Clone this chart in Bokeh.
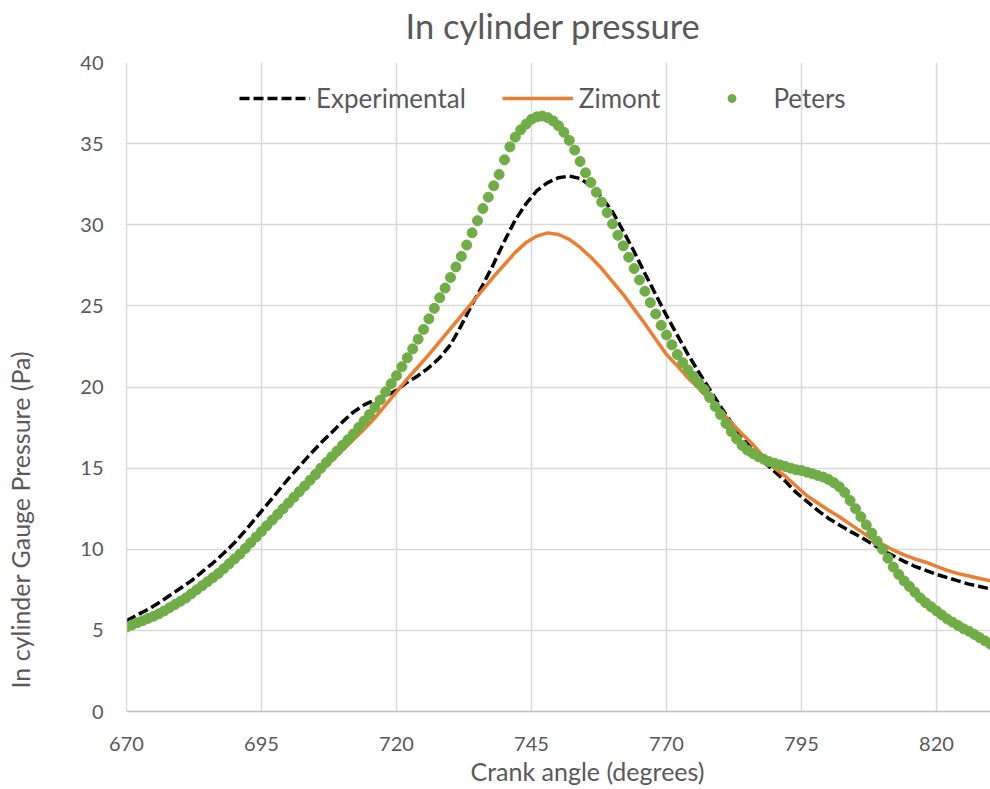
from bokeh.plotting import figure
from bokeh.models import FixedTicker, Title, Legend, LegendItem, Range1d, LinearAxis
from bokeh.embed import file_html
from bokeh.resources import INLINE

# ---------------- data ----------------
angle_exp = list(range(670, 831, 2))
p_exp = [5.6, 5.95, 6.3, 6.7, 7.15, 7.6, 8.05, 8.6, 9.15, 9.75,
         10.4, 11.15, 11.95, 12.75, 13.55, 14.35, 15.1, 15.85, 16.55, 17.2,
         17.85, 18.45, 18.9, 19.2, 19.45, 19.8, 20.3, 20.7, 21.2, 21.8,
         22.6, 23.8, 25.1, 26.3, 27.6, 29.0, 30.3, 31.3, 32.1, 32.6,
         32.9, 33.0, 32.85, 32.4, 31.7, 30.8, 29.6, 28.35, 27.0, 25.7,
         24.4, 23.2, 22.0, 20.9, 19.85, 18.8, 17.8, 16.9, 16.1, 15.4,
         14.8, 14.2, 13.5, 12.95, 12.4, 11.9, 11.5, 11.1, 10.75, 10.35,
         9.95, 9.6, 9.25, 8.95, 8.7, 8.45, 8.25, 8.05, 7.85, 7.7,
         7.55]

angle_zim = list(range(670, 831, 2))
p_zim = [5.25, 5.5, 5.75, 6.05, 6.4, 6.8, 7.2, 7.7, 8.2, 8.75,
         9.35, 9.95, 10.6, 11.3, 12.0, 12.7, 13.4, 14.1, 14.8, 15.45,
         16.1, 16.75, 17.4, 18.1, 18.9, 19.7, 20.5, 21.25, 22.0, 22.8,
         23.6, 24.4, 25.2, 26.0, 26.8, 27.55, 28.3, 28.9, 29.3, 29.5,
         29.4, 29.1, 28.6, 28.0, 27.3, 26.5, 25.7, 24.8, 23.9, 22.95,
         22.0, 21.3, 20.55, 19.9, 19.2, 18.55, 17.8, 17.1, 16.45, 15.7,
         15.0, 14.5, 13.9, 13.3, 12.85, 12.4, 12.0, 11.55, 11.1, 10.65,
         10.3, 9.95, 9.65, 9.4, 9.2, 8.95, 8.7, 8.5, 8.35, 8.2,
         8.05]

angle_pet = list(range(670, 831))
p_pet = [5.20, 5.33, 5.47, 5.60, 5.74, 5.87, 6.02, 6.2, 6.4, 6.6,
         6.8, 7.0, 7.25, 7.5, 7.75, 8.0, 8.25, 8.5, 8.8, 9.1,
         9.4, 9.7, 10.05, 10.4, 10.75, 11.1, 11.45, 11.8, 12.15, 12.5,
         12.85, 13.2, 13.55, 13.9, 14.25, 14.6, 15.0, 15.35, 15.7, 16.05,
         16.4, 16.75, 17.1, 17.5, 17.9, 18.3, 18.75, 19.2, 19.7, 20.2,
         20.7, 21.25, 21.8, 22.35, 22.95, 23.55, 24.2, 24.85, 25.5, 26.1,
         26.75, 27.4, 28.05, 28.75, 29.5, 30.25, 31.0, 31.7, 32.4, 33.1,
         34.0, 34.8, 35.4, 35.85, 36.2, 36.5, 36.65, 36.7, 36.6, 36.4,
         36.1, 35.7, 35.2, 34.6, 33.9, 33.2, 32.6, 32.0, 31.4, 30.75,
         30.05, 29.35, 28.7, 28.0, 27.3, 26.6, 25.9, 25.2, 24.5, 23.8,
         23.2, 22.6, 22.0, 21.5, 21.05, 20.65, 20.25, 19.85, 19.35, 18.8,
         18.3, 17.75, 17.25, 16.8, 16.4, 16.1, 15.9, 15.7, 15.55, 15.4,
         15.3, 15.2, 15.1, 15.0, 14.9, 14.85, 14.75, 14.65, 14.55, 14.45,
         14.3, 14.1, 13.85, 13.5, 13.0, 12.5, 12.0, 11.5, 11.0, 10.5,
         10.0, 9.45, 8.9, 8.45, 8.05, 7.7, 7.35, 7.0, 6.7, 6.45,
         6.2, 5.95, 5.7, 5.5, 5.3, 5.1, 4.95, 4.75, 4.55, 4.35,
         4.15]

x_ticks = [670, 695, 720, 745, 770, 795, 820]
y_ticks = [0, 5, 10, 15, 20, 25, 30, 35, 40]

title_text = "In cylinder pressure"
x_label = "Crank angle (degrees)"
y_label = "In cylinder Gauge Pressure (Pa)"
series_names = ["Experimental", "Zimont", "Peters"]

# ---------------- styling ----------------
FONT = "Lato"
GREY_TXT = "#595959"
GRID = "#d9d9d9"

p = figure(width=990, height=789, output_backend="svg", toolbar_location=None,
           title=None,
           x_range=Range1d(670, 830), y_range=Range1d(0, 40),
           min_border_left=126, min_border_right=0,
           min_border_top=62, min_border_bottom=78)
p.outline_line_color = None
p.background_fill_color = "white"

for ax, ticks in ((p.xaxis, x_ticks), (p.yaxis, y_ticks)):
    ax.ticker = FixedTicker(ticks=ticks)
    ax.major_tick_line_color = None
    ax.minor_tick_line_color = None
    ax.major_tick_out = 0
    ax.major_tick_in = 0
    ax.minor_tick_out = 0
    ax.minor_tick_in = 0
    ax.major_label_text_font = FONT
    ax.major_label_text_font_size = "20px"
    ax.major_label_text_color = GREY_TXT
p.xaxis.major_label_standoff = 25
p.yaxis.major_label_standoff = 23
p.xaxis.axis_line_color = "#bfbfbf"
p.xaxis.axis_line_width = 1.5
p.yaxis.axis_line_color = GRID
p.yaxis.axis_line_width = 1.5


def spacer(size, at):
    # blank axis (white tick on white, no label) used only to reserve room
    return LinearAxis(ticker=FixedTicker(ticks=[at]), axis_line_color=None,
                      major_tick_line_color="white", minor_tick_line_color=None,
                      major_tick_in=0, major_tick_out=size,
                      minor_tick_in=0, minor_tick_out=0,
                      major_label_standoff=0, major_label_text_font_size="0px",
                      major_label_overrides={at: ""})


# left side: y axis | spacer | axis title
p.add_layout(spacer(42, 0), "left")
p.add_layout(Title(text=y_label, align="left", offset=23, standoff=2,
                   text_font=FONT, text_font_size="25px", text_font_style="normal",
                   text_color=GREY_TXT), "left")
# top: spacer | chart title
p.add_layout(spacer(16, 830), "above")
p.add_layout(Title(text=title_text, align="left", offset=279, standoff=2,
                   text_font=FONT, text_font_size="34.5px", text_font_style="normal",
                   text_color=GREY_TXT), "above")
# bottom: x axis | axis title
p.add_layout(Title(text=x_label, align="left", offset=344, standoff=0,
                   text_font=FONT, text_font_size="25px", text_font_style="normal",
                   text_color=GREY_TXT), "below")

p.xgrid.grid_line_color = GRID
p.ygrid.grid_line_color = GRID
p.xgrid.grid_line_width = 1.5
p.ygrid.grid_line_width = 1.5

r_exp = p.line(angle_exp, p_exp, line_color="#000000", line_width=3.5,
               line_dash="10 4")
r_zim = p.line(angle_zim, p_zim, line_color="#ED7D31", line_width=3.5)
r_pet = p.scatter(angle_pet, p_pet, size=10, marker="circle",
                  fill_color="#70AD47", line_color="#70AD47")

legend = Legend(items=[LegendItem(label=series_names[0], renderers=[r_exp]),
                       LegendItem(label=series_names[1], renderers=[r_zim]),
                       LegendItem(label=series_names[2], renderers=[r_pet])],
                orientation="horizontal", location=(113, 597),
                glyph_width=71, glyph_height=20, label_standoff=6,
                spacing=36, padding=0, margin=0,
                border_line_color=None, background_fill_alpha=0,
                label_text_font=FONT, label_text_font_size="26px",
                label_text_color=GREY_TXT)
p.add_layout(legend, "center")

open("out.html", "w").write(file_html(p, INLINE))
